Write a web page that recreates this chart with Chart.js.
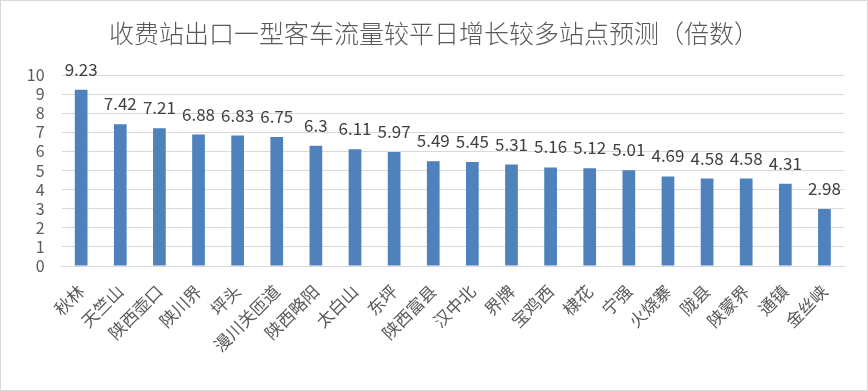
<!DOCTYPE html>
<html>
<head>
<meta charset="utf-8">
<script src="https://cdn.jsdelivr.net/npm/chart.js@4"></script>
<style>
  html, body { margin: 0; padding: 0; background: #fff; }
  #wrap { width: 866px; height: 389px; border: 1px solid #d9d9d9; }
</style>
</head>
<body>
<div id="wrap"><canvas id="grafica" width="866" height="389"></canvas></div>
<script>
const titulo = '收费站出口一型客车流量较平日增长较多站点预测（倍数）';
const estaciones = ['秋林', '天竺山', '陕西壶口', '陕川界', '坪头', '漫川关匝道', '陕西略阳', '太白山', '东坪', '陕西富县',
   '汉中北', '界牌', '宝鸡西', '棣花', '宁强', '火烧寨', '陇县', '陕蒙界', '通镇', '金丝峡'];
const multiplos = [9.23, 7.42, 7.21, 6.88, 6.83, 6.75, 6.3, 6.11, 5.97, 5.49,
   5.45, 5.31, 5.16, 5.12, 5.01, 4.69, 4.58, 4.58, 4.31, 2.98];
const marcasY = [0, 1, 2, 3, 4, 5, 6, 7, 8, 9, 10];

const fuente = '"Noto Sans CJK SC", "DejaVu Sans", sans-serif';

// titulo centrado en todo el lienzo + etiquetas de valor encima de cada barra
const textosExtra = {
   id: 'textosExtra',
   afterDatasetsDraw(chart) {
      const c = chart.ctx;
      const meta = chart.getDatasetMeta(0);
      c.save();
      c.font = '300 25px ' + fuente;
      c.fillStyle = '#595959';
      c.textAlign = 'center';
      c.textBaseline = 'middle';
      c.fillText(titulo, chart.width / 2, 32);

      c.font = '17px ' + fuente;
      c.fillStyle = '#404040';
      c.textBaseline = 'alphabetic';
      meta.data.forEach((bar, i) => {
         c.fillText(String(multiplos[i]), bar.x, bar.y - 14);
      });
      c.restore();
   }
};

const ctx = document.getElementById('grafica').getContext('2d');

const chart = new Chart(ctx, {
   type: 'bar',
   data: {
      labels: estaciones,
      datasets: [{
         data: multiplos,
         backgroundColor: '#4f81bd',
         barPercentage: 0.65,
         categoryPercentage: 0.5
      }]
   },
   options: {
      responsive: false,
      animation: false,
      layout: { padding: { top: 74, right: 23, left: 0, bottom: 0 } },
      plugins: {
         legend: { display: false },
         tooltip: { enabled: false },
         title: { display: false }
      },
      scales: {
         x: {
            afterFit: axis => { axis.height = 124; },
            grid: { display: false, drawTicks: false },
            border: { display: true, color: '#d9d9d9' },
            ticks: {
               color: '#595959',
               font: { family: fuente, size: 17 },
               minRotation: 45,
               maxRotation: 45,
               autoSkip: false,
               padding: 15
            }
         },
         y: {
            min: 0,
            max: 10,
            afterFit: axis => { axis.width = 60.6; },
            afterBuildTicks: axis => { axis.ticks = marcasY.map(v => ({ value: v })); },
            grid: { color: '#d9d9d9', drawTicks: false },
            border: { display: false },
            ticks: {
               color: '#595959',
               font: { family: fuente, size: 16 },
               autoSkip: false,
               padding: 17
            }
         }
      }
   },
   plugins: [textosExtra]
});
</script>
</body>
</html>
